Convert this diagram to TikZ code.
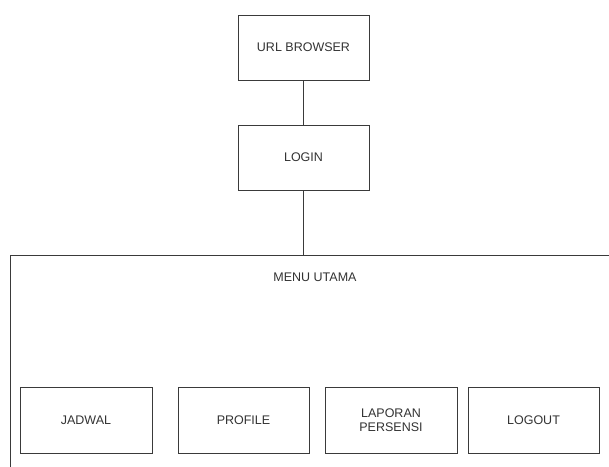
\documentclass[tikz,border=0pt]{standalone}
\usepackage{fontspec}
\setmainfont{Liberation Sans}
\definecolor{edge}{HTML}{3A3A3A}
\definecolor{ink}{HTML}{333333}
\begin{document}
\begin{tikzpicture}[x=1pt,y=-1pt,
  box/.style={draw=edge, line width=1pt, fill=white, rectangle, inner sep=0pt,
    minimum width=131pt, minimum height=65pt, text=ink, align=center,
    font=\fontsize{12.5}{14.5}\selectfont},
  link/.style={draw=edge, line width=1pt},
  caption/.style={text=ink, inner sep=0pt, font=\fontsize{12.5}{14.5}\selectfont}]
  \useasboundingbox (0,0) rectangle (609,466);
  \clip (0,0) rectangle (609,466);
  \fill[white] (0,0) rectangle (609,466);

  % main menu container, running off the right and bottom edges
  \node[draw=edge, line width=1pt, rectangle, inner sep=0pt, anchor=north west,
    minimum width=620pt, minimum height=240pt] (menu) at (10,255) {};
  \node[caption] (menutitle) at (315,277) {MENU UTAMA};

  % entry flow
  \node[box] (url) at (303.5,47.5) {URL BROWSER};
  \node[box] (login) at (303.5,157.5) {LOGIN};

  % menu items
  \node[box, minimum width=132pt, minimum height=66pt] (jadwal) at (86,420) {JADWAL};
  \node[box, minimum height=66pt] (profile) at (243.5,420) {PROFILE};
  \node[box, minimum width=132pt, minimum height=66pt] (laporan) at (391,420) {LAPORAN\\PERSENSI};
  \node[box, minimum height=66pt] (logout) at (533.5,420) {LOGOUT};

  % connectors
  \draw[link] (url.south) -- (login.north);
  \draw[link] (login.south) -- (login.south |- menu.north);
\end{tikzpicture}
\end{document}
